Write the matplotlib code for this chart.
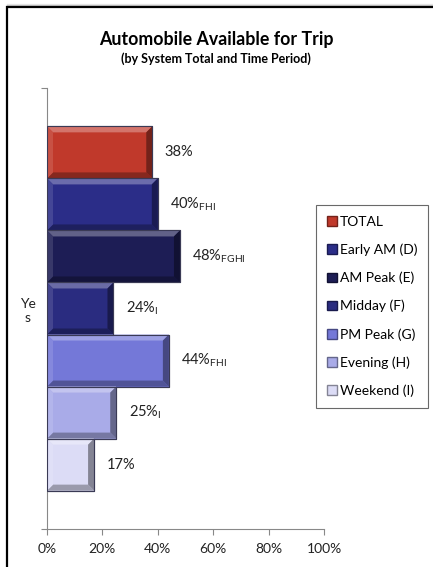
import matplotlib
matplotlib.use("Agg")
import matplotlib.pyplot as plt
from matplotlib.patches import Rectangle, Polygon, Patch
import numpy as np

plt.rcParams['font.family'] = ['Lato', 'DejaVu Sans']
plt.rcParams['mathtext.fontset'] = 'custom'
plt.rcParams['mathtext.rm'] = 'Lato'

title = "Automobile Available for Trip"
subtitle = "(by System Total and Time Period)"
category = "Ye\ns"
series = ["TOTAL", "Early AM (D)", "AM Peak (E)", "Midday (F)", "PM Peak (G)", "Evening (H)", "Weekend (I)"]
values = [38, 40, 48, 24, 44, 25, 17]
subscripts = ["", "FHI", "FGHI", "I", "FHI", "I", ""]
colors = ["#c0392b", "#2b2d88", "#1d1d55", "#2a2c80", "#7478d8", "#a9abe8", "#dcdcf6"]
xticks = [0, 20, 40, 60, 80, 100]

W, H = 433, 567
fig = plt.figure(figsize=(W / 100, H / 100), dpi=100)
fig.patch.set_facecolor("white")

# outer frame with shadow
for k, a in enumerate([0.08, 0.15, 0.25]):
    fig.add_artist(plt.Line2D([7 / W, 1.0], [1 - (4 + k) / H] * 2, color="black", alpha=a, lw=1,
                              transform=fig.transFigure))
fig.add_artist(Rectangle((7 / W, -0.1), 1.2, 1 - 7 / H + 0.1, transform=fig.transFigure,
                         fill=False, edgecolor="black", lw=1.6))

ax = fig.add_axes([47 / W, 1 - 529 / H, (324 - 47) / W, (529 - 88) / H])
n = len(series)
bw = 0.118
ypos = [(i - (n - 1) / 2) * bw for i in range(n)]
bars = ax.barh(ypos, values, height=bw, color=colors, edgecolor="#3a3a55", linewidth=0.8, zorder=2)
ax.set_xlim(0, 100)
ax.set_ylim(0.5, -0.5)

fig.canvas.draw()


def lighten(c, f):
    c = np.array(matplotlib.colors.to_rgb(c))
    return tuple(c + (1 - c) * f)


def darken(c, f):
    c = np.array(matplotlib.colors.to_rgb(c))
    return tuple(c * (1 - f))


bev = 6
inv = ax.transData.inverted()
for b, c in zip(bars, colors):
    x0, y0 = ax.transData.transform((b.get_x(), b.get_y()))
    x1, y1 = ax.transData.transform((b.get_x() + b.get_width(), b.get_y() + b.get_height()))
    top, bot = max(y0, y1), min(y0, y1)
    L, R = x0, x1
    polys = [
        ([(L, top), (R, top), (R - bev, top - bev), (L + bev, top - bev)], lighten(c, 0.3)),
        ([(L, bot), (R, bot), (R - bev, bot + bev), (L + bev, bot + bev)], darken(c, 0.3)),
        ([(L, top), (L + bev, top - bev), (L + bev, bot + bev), (L, bot)], lighten(c, 0.12)),
        ([(R, top), (R - bev, top - bev), (R - bev, bot + bev), (R, bot)], darken(c, 0.4)),
    ]
    for pts, col in polys:
        d = inv.transform(pts)
        ax.add_patch(Polygon(d, closed=True, facecolor=col, edgecolor="none", zorder=3))
    ax.add_patch(Rectangle((b.get_x(), b.get_y()), b.get_width(), b.get_height(), fill=False,
                           edgecolor="#3a3a55", lw=0.8, zorder=4))

for y, v, s in zip(ypos, values, subscripts):
    txt = f"{v}%" + (r"$_{\mathrm{" + s + "}}$" if s else "")
    ax.annotate(txt, (v, y), xytext=(9, 0), textcoords="offset points", va="center", ha="left",
                fontsize=10.5, color="#222222")

ax.set_xticks(xticks)
ax.set_xticklabels([f"{t}%" for t in xticks], fontsize=10, color="#222222")
ax.set_yticks([-0.5, 0.5])
ax.set_yticklabels([])
ax.set_yticks([0], minor=True)
ax.set_yticklabels([category], minor=True, fontsize=10, color="#222222", ha="center")
ax.tick_params(axis="y", which="minor", length=0, pad=14)
ax.tick_params(axis="y", which="major", length=4, color="#888888")
ax.tick_params(axis="x", length=4, color="#888888", pad=6)
for sp in ["top", "right"]:
    ax.spines[sp].set_visible(False)
for sp in ["left", "bottom"]:
    ax.spines[sp].set_color("#888888")
    ax.spines[sp].set_linewidth(0.8)

fig.text(216 / W, 1 - 40 / H, title, ha="center", va="center", fontsize=12.8, fontweight="bold")
fig.text(216 / W, 1 - 59 / H, subtitle, ha="center", va="center", fontsize=9, fontweight="bold")

handles = [Patch(facecolor=c, edgecolor=darken(c, 0.4)) for c in colors]
leg = fig.legend(handles, series, loc="upper left", bbox_to_anchor=(316 / W, 1 - 205 / H),
                 frameon=True, fancybox=False, fontsize=10, handlelength=0.7, handleheight=0.7,
                 handletextpad=0.2, labelspacing=1.12, borderpad=0.8, borderaxespad=0)
leg.get_frame().set_edgecolor("#444444")
leg.get_frame().set_linewidth(0.8)

fig.savefig("out.png", dpi=100)
